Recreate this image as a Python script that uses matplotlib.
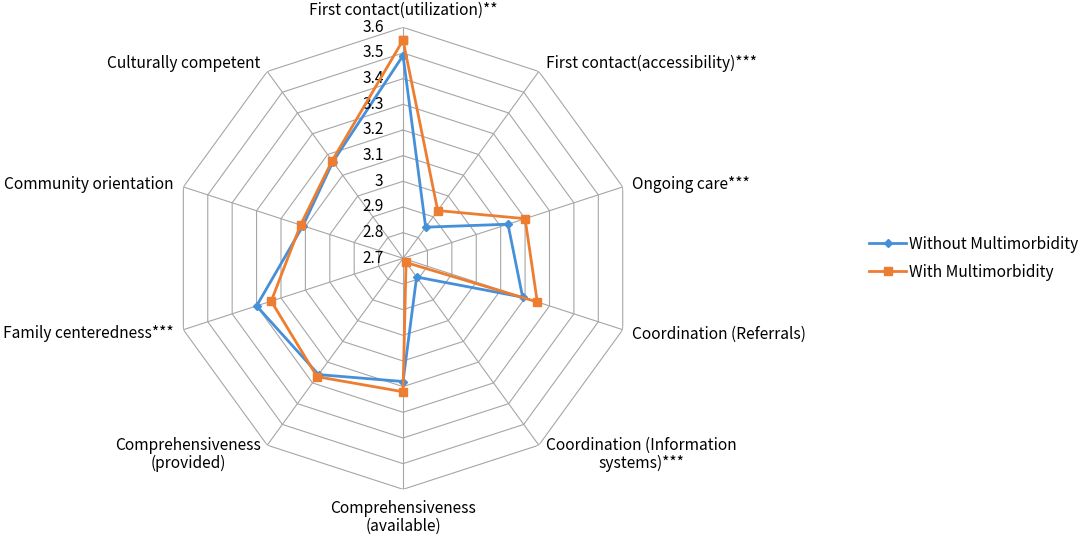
import numpy as np
import matplotlib
matplotlib.use("Agg")
import matplotlib.pyplot as plt

plt.rcParams['font.family'] = ['Noto Sans CJK SC', 'DejaVu Sans']

# Data
categories = [
    "First contact(utilization)**",
    "First contact(accessibility)***",
    "Ongoing care***",
    "Coordination (Referrals)",
    "Coordination (Information\nsystems)***",
    "Comprehensiveness\n(available)",
    "Comprehensiveness\n(provided)",
    "Family centeredness***",
    "Community orientation",
    "Culturally competent",
]
withoutMulti = [3.49, 2.85, 3.13, 3.19, 2.79, 3.18, 3.26, 3.30, 3.11, 3.165]
withMulti = [3.55, 2.93, 3.20, 3.25, 2.72, 3.22, 3.27, 3.24, 3.12, 3.17]
radialTicks = [2.7, 2.8, 2.9, 3.0, 3.1, 3.2, 3.3, 3.4, 3.5, 3.6]
radialTickLabels = ["2.7", "2.8", "2.9", "3", "3.1", "3.2", "3.3", "3.4", "3.5", "3.6"]

rMin, rMax = radialTicks[0], radialTicks[-1]
gridColor = "#A6A6A6"
blue = "#4590D8"
orange = "#ED7D31"
fontSize = 11.2

n = len(categories)
angles = np.linspace(0, 2 * np.pi, n, endpoint=False)
anglesClosed = np.append(angles, angles[0])

fig = plt.figure(figsize=(10.84, 5.38), dpi=100)
ax = fig.add_axes([0.1587, 0.0905, 0.4262, 0.8587], projection="polar")
ax.set_theta_zero_location("N")
ax.set_theta_direction(-1)
ax.set_ylim(rMin, rMax)
ax.grid(False)
ax.spines["polar"].set_visible(False)
ax.set_xticks([])
ax.set_yticks([])

# polygon grid
for level in radialTicks[1:]:
    ax.plot(anglesClosed, [level] * (n + 1), color=gridColor, lw=0.8, zorder=1)
for a in angles:
    ax.plot([a, a], [rMin, rMax], color=gridColor, lw=0.8, zorder=1)

# series
ax.plot(anglesClosed, np.append(withoutMulti, withoutMulti[0]), color=blue, lw=2,
        marker="D", ms=4.5, label="Without Multimorbidity", zorder=3, clip_on=False)
ax.plot(anglesClosed, np.append(withMulti, withMulti[0]), color=orange, lw=2,
        marker="s", ms=6, label="With Multimorbidity", zorder=4, clip_on=False)

# radial tick labels
for val, lab in zip(radialTicks, radialTickLabels):
    ax.annotate(lab, xy=(0, val), xytext=(-14, 0), textcoords="offset points",
                ha="right", va="center", fontsize=fontSize, annotation_clip=False)

# category labels: (dx, dy) in points, ha
labelSpecs = [
    ((0, 12), "center"),
    ((5, 5.5), "left"),
    ((6.5, 1.5), "left"),
    ((7, -3.5), "left"),
    ((5, -6.5), "left"),
    ((0, -20.5), "center"),
    ((-4.5, -6.5), "right"),
    ((-7, -3), "right"),
    ((-7, 1.5), "right"),
    ((-5, 5.5), "right"),
]
for a, cat, (off, ha) in zip(angles, categories, labelSpecs):
    ax.annotate(cat, xy=(a, rMax), xytext=off, textcoords="offset points",
                ha=ha, va="center", multialignment="center", fontsize=fontSize,
                annotation_clip=False, linespacing=1.05)

fig.legend(loc="center left", bbox_to_anchor=(0.789, 0.52), frameon=False,
           fontsize=fontSize, handlelength=2.35, handletextpad=0.2, labelspacing=0.72)

fig.savefig("out.png", dpi=100)
